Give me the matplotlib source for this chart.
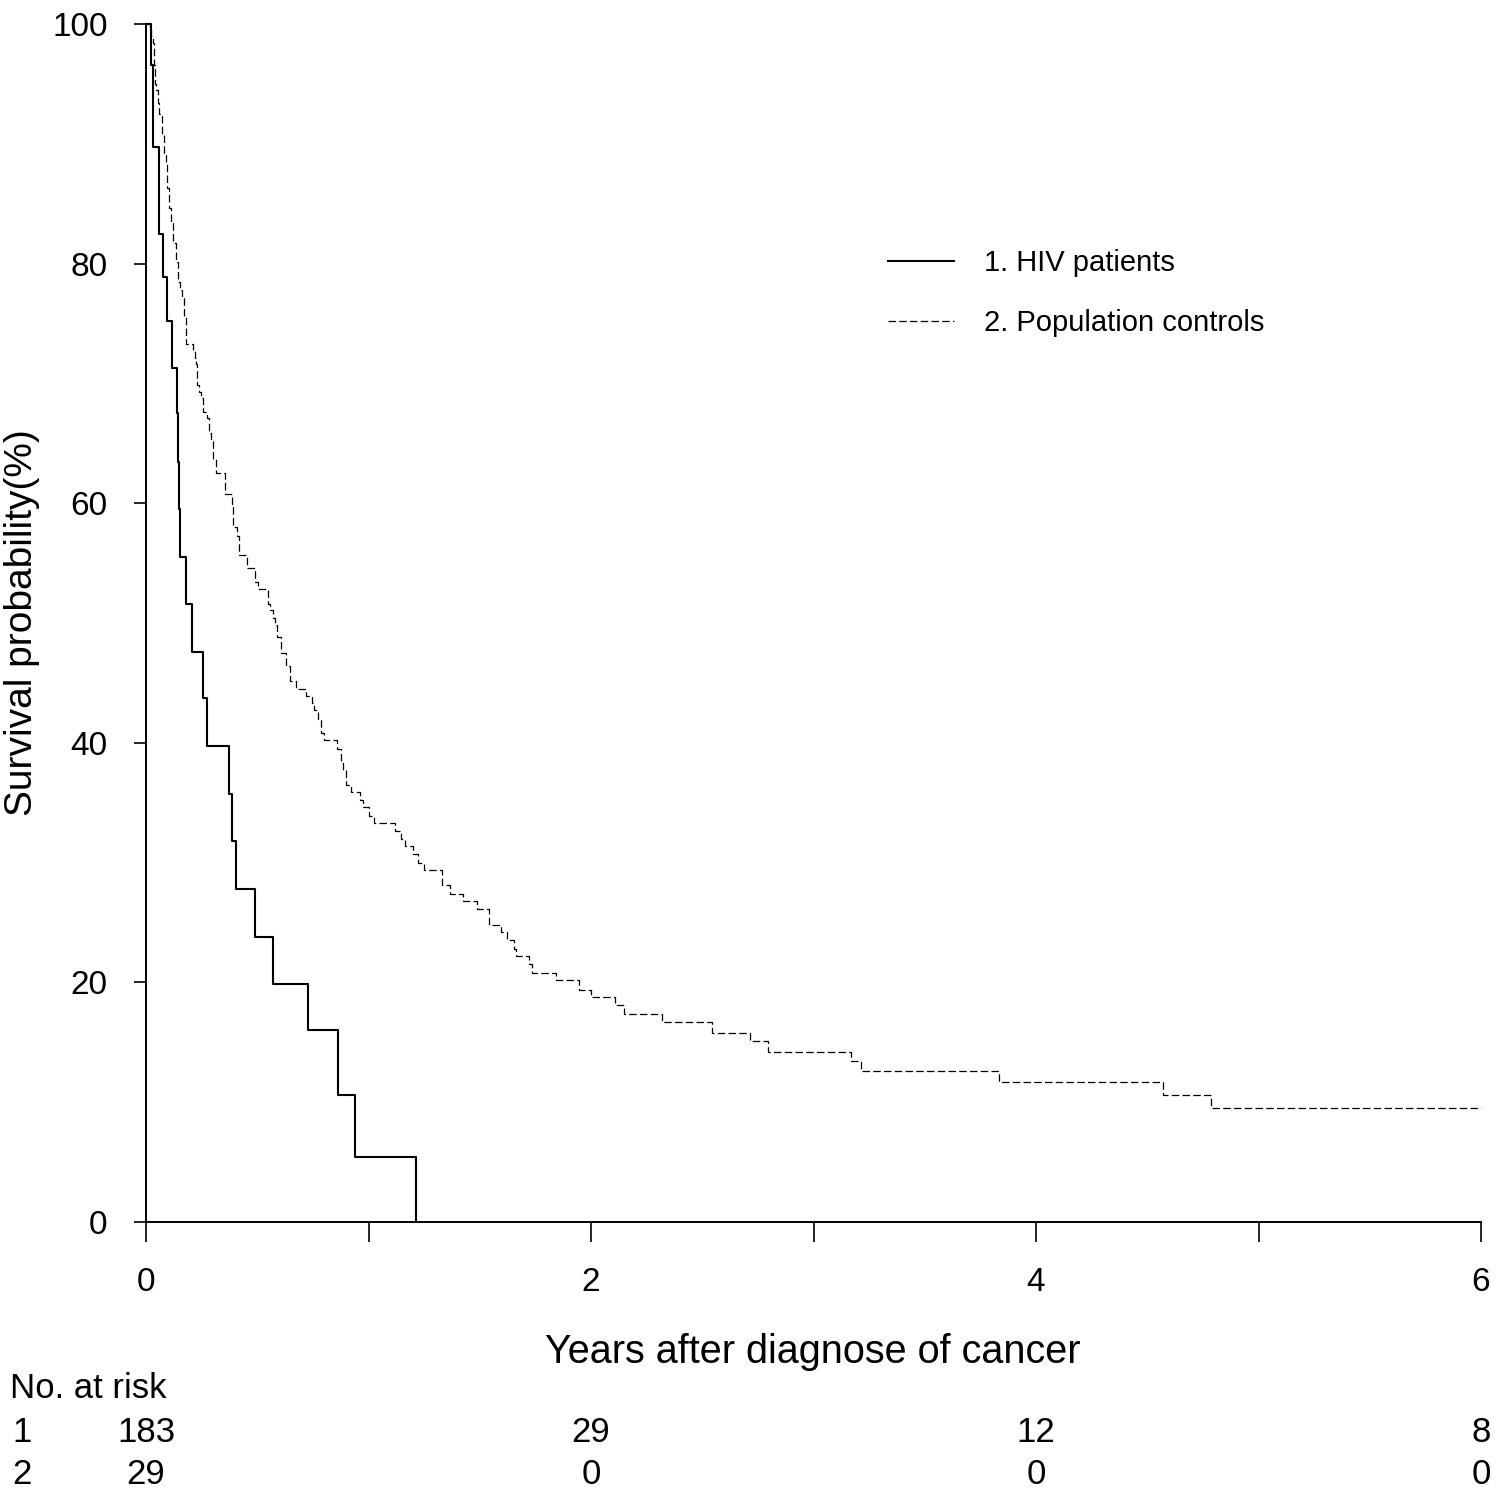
import matplotlib
matplotlib.use("Agg")
from matplotlib import pyplot as plt
from matplotlib import transforms

plt.rcParams['font.family'] = ['Liberation Sans', 'DejaVu Sans']

# survival curves (years, percent after the drop)
hiv_times = [0, 0.022, 0.030, 0.033, 0.060, 0.075, 0.096, 0.118, 0.141, 0.145,
             0.150, 0.154, 0.181, 0.208, 0.258, 0.276, 0.372, 0.388, 0.406,
             0.491, 0.572, 0.730, 0.864, 0.941, 1.215]
hiv_surv = [100, 96.6, 93.2, 89.7, 82.5, 78.9, 75.2, 71.3, 67.5, 63.4,
            59.5, 55.5, 51.6, 47.6, 43.7, 39.7, 35.7, 31.8, 27.8,
            23.8, 19.9, 16.0, 10.6, 5.4, 0]

ctrl_times = [0, 0.018, 0.022, 0.030, 0.036, 0.040, 0.045, 0.055, 0.060, 0.072,
              0.081, 0.090, 0.093, 0.105, 0.112, 0.120, 0.133, 0.142, 0.153,
              0.160, 0.172, 0.180, 0.210, 0.219, 0.225, 0.231, 0.240, 0.247,
              0.258, 0.276, 0.284, 0.292, 0.302, 0.315, 0.355, 0.385, 0.392,
              0.410, 0.418, 0.455, 0.491, 0.505, 0.550, 0.557, 0.569, 0.580,
              0.590, 0.607, 0.629, 0.647, 0.672, 0.717, 0.745, 0.755, 0.775,
              0.787, 0.801, 0.857, 0.876, 0.884, 0.899, 0.920, 0.962, 0.977,
              1.004, 1.026, 1.117, 1.147, 1.166, 1.201, 1.224, 1.251, 1.329,
              1.365, 1.423, 1.489, 1.540, 1.594, 1.621, 1.654, 1.662, 1.720,
              1.733, 1.843, 1.947, 1.999, 2.109, 2.147, 2.318, 2.542, 2.716,
              2.797, 3.170, 3.214, 3.832, 4.572, 4.788, 6.0]
ctrl_surv = [100, 99.5, 98.9, 98.4, 96.6, 95.0, 94.5, 93.4, 92.5, 90.7,
             89.1, 88.5, 86.3, 84.6, 83.4, 81.7, 80.1, 78.5, 77.8,
             77.2, 75.6, 73.3, 72.8, 72.1, 71.6, 69.9, 69.3, 68.8,
             67.6, 67.1, 65.9, 65.4, 63.7, 62.5, 60.8, 59.7, 58.0,
             57.3, 55.7, 54.6, 53.4, 52.8, 51.6, 51.1, 50.4, 49.8,
             48.8, 47.5, 46.4, 45.2, 44.5, 43.9, 43.3, 42.7, 42.0,
             40.8, 40.2, 39.5, 38.3, 37.7, 36.5, 35.9, 35.2, 34.6,
             33.9, 33.3, 32.6, 32.0, 31.4, 30.7, 30.0, 29.4, 28.1,
             27.4, 26.8, 26.1, 24.8, 24.2, 23.5, 22.8, 22.2, 21.5,
             20.8, 20.2, 19.4, 18.8, 18.1, 17.4, 16.7, 15.8, 15.1,
             14.2, 13.4, 12.6, 11.7, 10.6, 9.5, 9.5]

series_labels = ['1. HIV patients', '2. Population controls']

risk_times = [0, 2, 4, 6]
risk_row1 = [183, 29, 12, 8]
risk_row2 = [29, 0, 0, 0]
row_names = ['1', '2']

fig = plt.figure(figsize=(15, 15), dpi=100)
ax = fig.add_axes([146 / 1500, 1 - 1222 / 1500, 1335 / 1500, 1198 / 1500])

ax.step(hiv_times, hiv_surv, where='post', color='black', lw=1.5,
        clip_on=False, label=series_labels[0])
ax.step(ctrl_times, ctrl_surv, where='post', color='black', lw=0.9,
        linestyle=(0, (6, 2.6)), clip_on=False, label=series_labels[1])

ax.set_xlim(0, 6)
ax.set_ylim(0, 100)
for side in ['top', 'right']:
    ax.spines[side].set_visible(False)
for side in ['left', 'bottom']:
    ax.spines[side].set_linewidth(1.4)

ax.set_xticks([0, 1, 2, 3, 4, 5, 6], labels=['0', '', '2', '', '4', '', '6'])
ax.set_yticks([0, 20, 40, 60, 80, 100])
ax.tick_params(axis='x', length=14.5, width=1.2, pad=18, labelsize=24)
ax.tick_params(axis='y', length=8.6, width=1.2, pad=19, labelsize=24)

fig.text(813 / 1500, 1 - 1352 / 1500, 'Years after diagnose of cancer',
         ha='center', va='center', fontsize=28.5)
fig.text(22 / 1500, 1 - 623 / 1500, 'Survival probability(%)',
         ha='center', va='center', rotation=90, fontsize=28)

leg = ax.legend(loc='upper left', bbox_to_anchor=(888 / 1500, 1 - 249 / 1500),
                bbox_transform=fig.transFigure, frameon=False, fontsize=21,
                handlelength=2.25, handletextpad=1.05, labelspacing=1.1,
                borderpad=0, borderaxespad=0)

# number at risk table below the axis
trans = transforms.blended_transform_factory(ax.transData, fig.transFigure)
fig.text(10 / 1500, 1 - 1389 / 1500, 'No. at risk', ha='left', va='center',
         fontsize=25)
for name, row, ypix in [(row_names[0], risk_row1, 1433), (row_names[1], risk_row2, 1474)]:
    fig.text(12 / 1500, 1 - ypix / 1500, name, ha='left', va='center', fontsize=25)
    for t, n in zip(risk_times, row):
        ax.text(t, 1 - ypix / 1500, str(n), transform=trans, ha='center',
                va='center', fontsize=25)

fig.savefig('out.png', dpi=100)
